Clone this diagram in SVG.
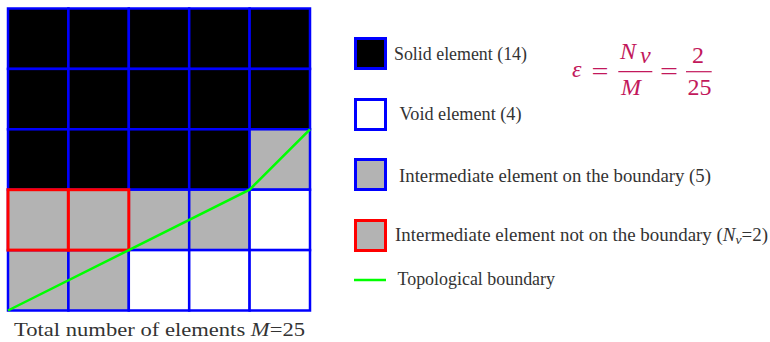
<svg xmlns="http://www.w3.org/2000/svg" width="770" height="342" viewBox="0 0 770 342">
<style>
.sol{fill:#000000;stroke:#0000ff;stroke-width:2.5}
.voi{fill:#ffffff;stroke:#0000ff;stroke-width:2.5}
.int{fill:#b3b3b3;stroke:#0000ff;stroke-width:2.5}
.nob{fill:#b3b3b3;stroke:#ff0000;stroke-width:3}
.lg{stroke-width:3}
.t{font-family:"Liberation Serif","DejaVu Serif",serif;fill:#333333;font-size:18px}
.f{font-family:"Liberation Serif","DejaVu Serif",serif;fill:#c2185b;font-size:24px}
.i{font-style:italic}
</style>
<rect width="770" height="342" fill="#ffffff"/>
<g id="grid">
<g id="row0">
<rect class="sol" x="8" y="8.5" width="60.4" height="60.4"/>
<rect class="sol" x="68.4" y="8.5" width="60.4" height="60.4"/>
<rect class="sol" x="128.8" y="8.5" width="60.4" height="60.4"/>
<rect class="sol" x="189.2" y="8.5" width="60.4" height="60.4"/>
<rect class="sol" x="249.6" y="8.5" width="60.4" height="60.4"/>
</g>
<g id="row1">
<rect class="sol" x="8" y="68.9" width="60.4" height="60.4"/>
<rect class="sol" x="68.4" y="68.9" width="60.4" height="60.4"/>
<rect class="sol" x="128.8" y="68.9" width="60.4" height="60.4"/>
<rect class="sol" x="189.2" y="68.9" width="60.4" height="60.4"/>
<rect class="sol" x="249.6" y="68.9" width="60.4" height="60.4"/>
</g>
<g id="row2">
<rect class="sol" x="8" y="129.3" width="60.4" height="60.4"/>
<rect class="sol" x="68.4" y="129.3" width="60.4" height="60.4"/>
<rect class="sol" x="128.8" y="129.3" width="60.4" height="60.4"/>
<rect class="sol" x="189.2" y="129.3" width="60.4" height="60.4"/>
<rect class="int" x="249.6" y="129.3" width="60.4" height="60.4"/>
</g>
<g id="row3">
<rect class="int" x="8" y="189.7" width="60.4" height="60.4"/>
<rect class="int" x="68.4" y="189.7" width="60.4" height="60.4"/>
<rect class="int" x="128.8" y="189.7" width="60.4" height="60.4"/>
<rect class="int" x="189.2" y="189.7" width="60.4" height="60.4"/>
<rect class="voi" x="249.6" y="189.7" width="60.4" height="60.4"/>
</g>
<g id="row4">
<rect class="int" x="8" y="250.1" width="60.4" height="60.4"/>
<rect class="int" x="68.4" y="250.1" width="60.4" height="60.4"/>
<rect class="voi" x="128.8" y="250.1" width="60.4" height="60.4"/>
<rect class="voi" x="189.2" y="250.1" width="60.4" height="60.4"/>
<rect class="voi" x="249.6" y="250.1" width="60.4" height="60.4"/>
</g>
<g id="not-on-boundary">
<rect class="nob" x="8" y="189.7" width="60.4" height="60.4"/>
<rect class="nob" x="68.4" y="189.7" width="60.4" height="60.4"/>
</g>
</g>
<g id="connectors">
<polyline id="boundary" points="8,310.5 249.6,189.7 310,129.3" fill="none" stroke="#00ff00" stroke-width="2.5"/>
</g>
<text class="t" x="14" y="336" font-size="21" textLength="291" lengthAdjust="spacingAndGlyphs">Total number of elements <tspan class="i">M</tspan>=25</text>
<g id="legend-solid">
<rect class="sol lg" x="355.5" y="38.5" width="30" height="30"/>
<text class="t" x="394" y="60" textLength="133" lengthAdjust="spacingAndGlyphs">Solid element (14)</text>
</g>
<g id="legend-void">
<rect class="voi lg" x="355.5" y="99.5" width="30" height="30"/>
<text class="t" x="399.5" y="119.5" textLength="122" lengthAdjust="spacingAndGlyphs">Void element (4)</text>
</g>
<g id="legend-intermediate">
<rect class="int lg" x="355.5" y="159.5" width="30" height="30"/>
<text class="t" x="399" y="181.5" textLength="312" lengthAdjust="spacingAndGlyphs">Intermediate element on the boundary (5)</text>
</g>
<g id="legend-not-on-boundary">
<rect class="nob lg" x="355.5" y="220.5" width="30" height="30"/>
<text class="t" x="395" y="241" textLength="373" lengthAdjust="spacingAndGlyphs">Intermediate element not on the boundary (<tspan class="i">N</tspan><tspan class="i" font-size="13" dy="3">v</tspan><tspan dy="-3">=2)</tspan></text>
</g>
<g id="legend-boundary">
<line x1="354" y1="280" x2="386" y2="280" stroke="#00ff00" stroke-width="2.5"/>
<text class="t" x="397.5" y="285" textLength="157.5" lengthAdjust="spacingAndGlyphs">Topological boundary</text>
</g>
<g id="formula">
<text class="f i" x="572" y="76.5" font-size="26">ε</text>
<text class="f" x="591.5" y="78.5" textLength="17" lengthAdjust="spacingAndGlyphs">=</text>
<text class="f i" x="620" y="59" font-size="27">N</text>
<text class="f i" x="640" y="62.5" font-size="17">v</text>
<line x1="618.3" y1="71.7" x2="652.3" y2="71.7" stroke="#c2185b" stroke-width="1.2"/>
<text class="f i" x="621" y="95" font-size="27">M</text>
<text class="f" x="660" y="78.5" textLength="18" lengthAdjust="spacingAndGlyphs">=</text>
<text class="f" x="692" y="62.7" font-size="25">2</text>
<line x1="686" y1="71.7" x2="711.7" y2="71.7" stroke="#c2185b" stroke-width="1.2"/>
<text class="f" x="687.5" y="95" font-size="25">25</text>
</g>
</svg>
